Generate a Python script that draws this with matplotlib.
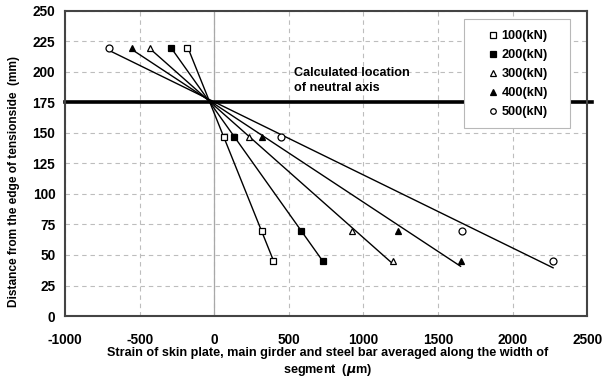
import numpy as np
import matplotlib
matplotlib.use("Agg")
import matplotlib.pyplot as plt
from matplotlib.patches import Rectangle

plt.rcParams["font.family"] = ["Liberation Sans", "DejaVu Sans"]
plt.rcParams["font.weight"] = "bold"
plt.rcParams["axes.unicode_minus"] = False

# distance from tension side (mm)
depth = [220, 147, 70, 45]

# strain (micro) for each load level
loads = ["100(kN)", "200(kN)", "300(kN)", "400(kN)", "500(kN)"]
strain_100 = [-179, 67, 317, 396]
strain_200 = [-291, 136, 582, 727]
strain_300 = [-432, 230, 924, 1197]
strain_400 = [-552, 320, 1230, 1651]
strain_500 = [-705, 447, 1660, 2271]

neutral_axis = 175

STYLE = [
    ("s", "white"),
    ("s", "black"),
    ("^", "white"),
    ("^", "black"),
    ("o", "white"),
]

fig = plt.figure(figsize=(6.13, 3.78), dpi=100)
ax = fig.add_axes([0.106, 0.164, 0.852, 0.807])

series = [strain_100, strain_200, strain_300, strain_400, strain_500]
for label, xs, (mk, fc) in zip(loads, series, STYLE):
    xs = np.array(xs, dtype=float)
    ys = np.array(depth, dtype=float)
    # linear fit drawn across the range of measured strain
    b, a = np.polyfit(xs, ys, 1)
    xl = np.array([xs.min(), xs.max()])
    ax.plot(xl, a + b * xl, color="black", lw=1.0, zorder=3)
    ax.plot(xs, ys, linestyle="none", marker=mk, mfc=fc, mec="black",
            mew=0.9, ms=5, label=label, zorder=4)

# neutral axis line, runs a bit past the frame on the right
ax.plot([-1000, 2530], [neutral_axis, neutral_axis], color="black", lw=2.6,
        clip_on=False, zorder=2)
ax.text(537, 193, "Calculated location\nof neutral axis", fontsize=9.1,
        fontweight="bold", ha="left", va="center", linespacing=1.25, zorder=3)

ax.set_xlim(-1000, 2500)
ax.set_ylim(0, 250)
ax.set_xticks(np.arange(-1000, 2501, 500))
ax.set_yticks(np.arange(0, 251, 25))
ax.grid(True, linestyle=(0, (4, 3.5)), color="#bdbdbd", lw=0.8)
ax.axvline(0, color="#a8a8a8", lw=0.9, zorder=1)
ax.set_axisbelow(True)
ax.tick_params(length=0, labelsize=9.8)
ax.tick_params(axis="x", pad=12)
ax.tick_params(axis="y", pad=7)
for s in ax.spines.values():
    s.set_color("#444444")
    s.set_linewidth(1.5)

ax.set_ylabel("Distance from the edge of tensionside  (mm)", fontsize=8.6,
              fontweight="bold")
ax.yaxis.set_label_coords(-0.086, 0.44)
ax.set_xlabel("Strain of skin plate, main girder and steel bar averaged along the width of\n"
              "segment  ($\\mu$m)", fontsize=9.1, fontweight="bold", linespacing=1.35)
ax.xaxis.set_label_coords(0.502, -0.1)

# legend box is wider than its entries, so draw the frame separately
ax.add_patch(Rectangle((0.764, 0.616), 0.203, 0.357, transform=ax.transAxes,
                       facecolor="white", edgecolor="#b8b8b8", lw=0.8,
                       clip_on=False, zorder=9))
leg = ax.legend(loc="center", bbox_to_anchor=(0.867, 0.793), fontsize=9.2,
                frameon=False, handlelength=0.8, handletextpad=0.3, borderpad=0,
                labelspacing=0.55, markerscale=0.8, borderaxespad=0)
leg.set_zorder(10)

fig.savefig("out.png", dpi=100)
